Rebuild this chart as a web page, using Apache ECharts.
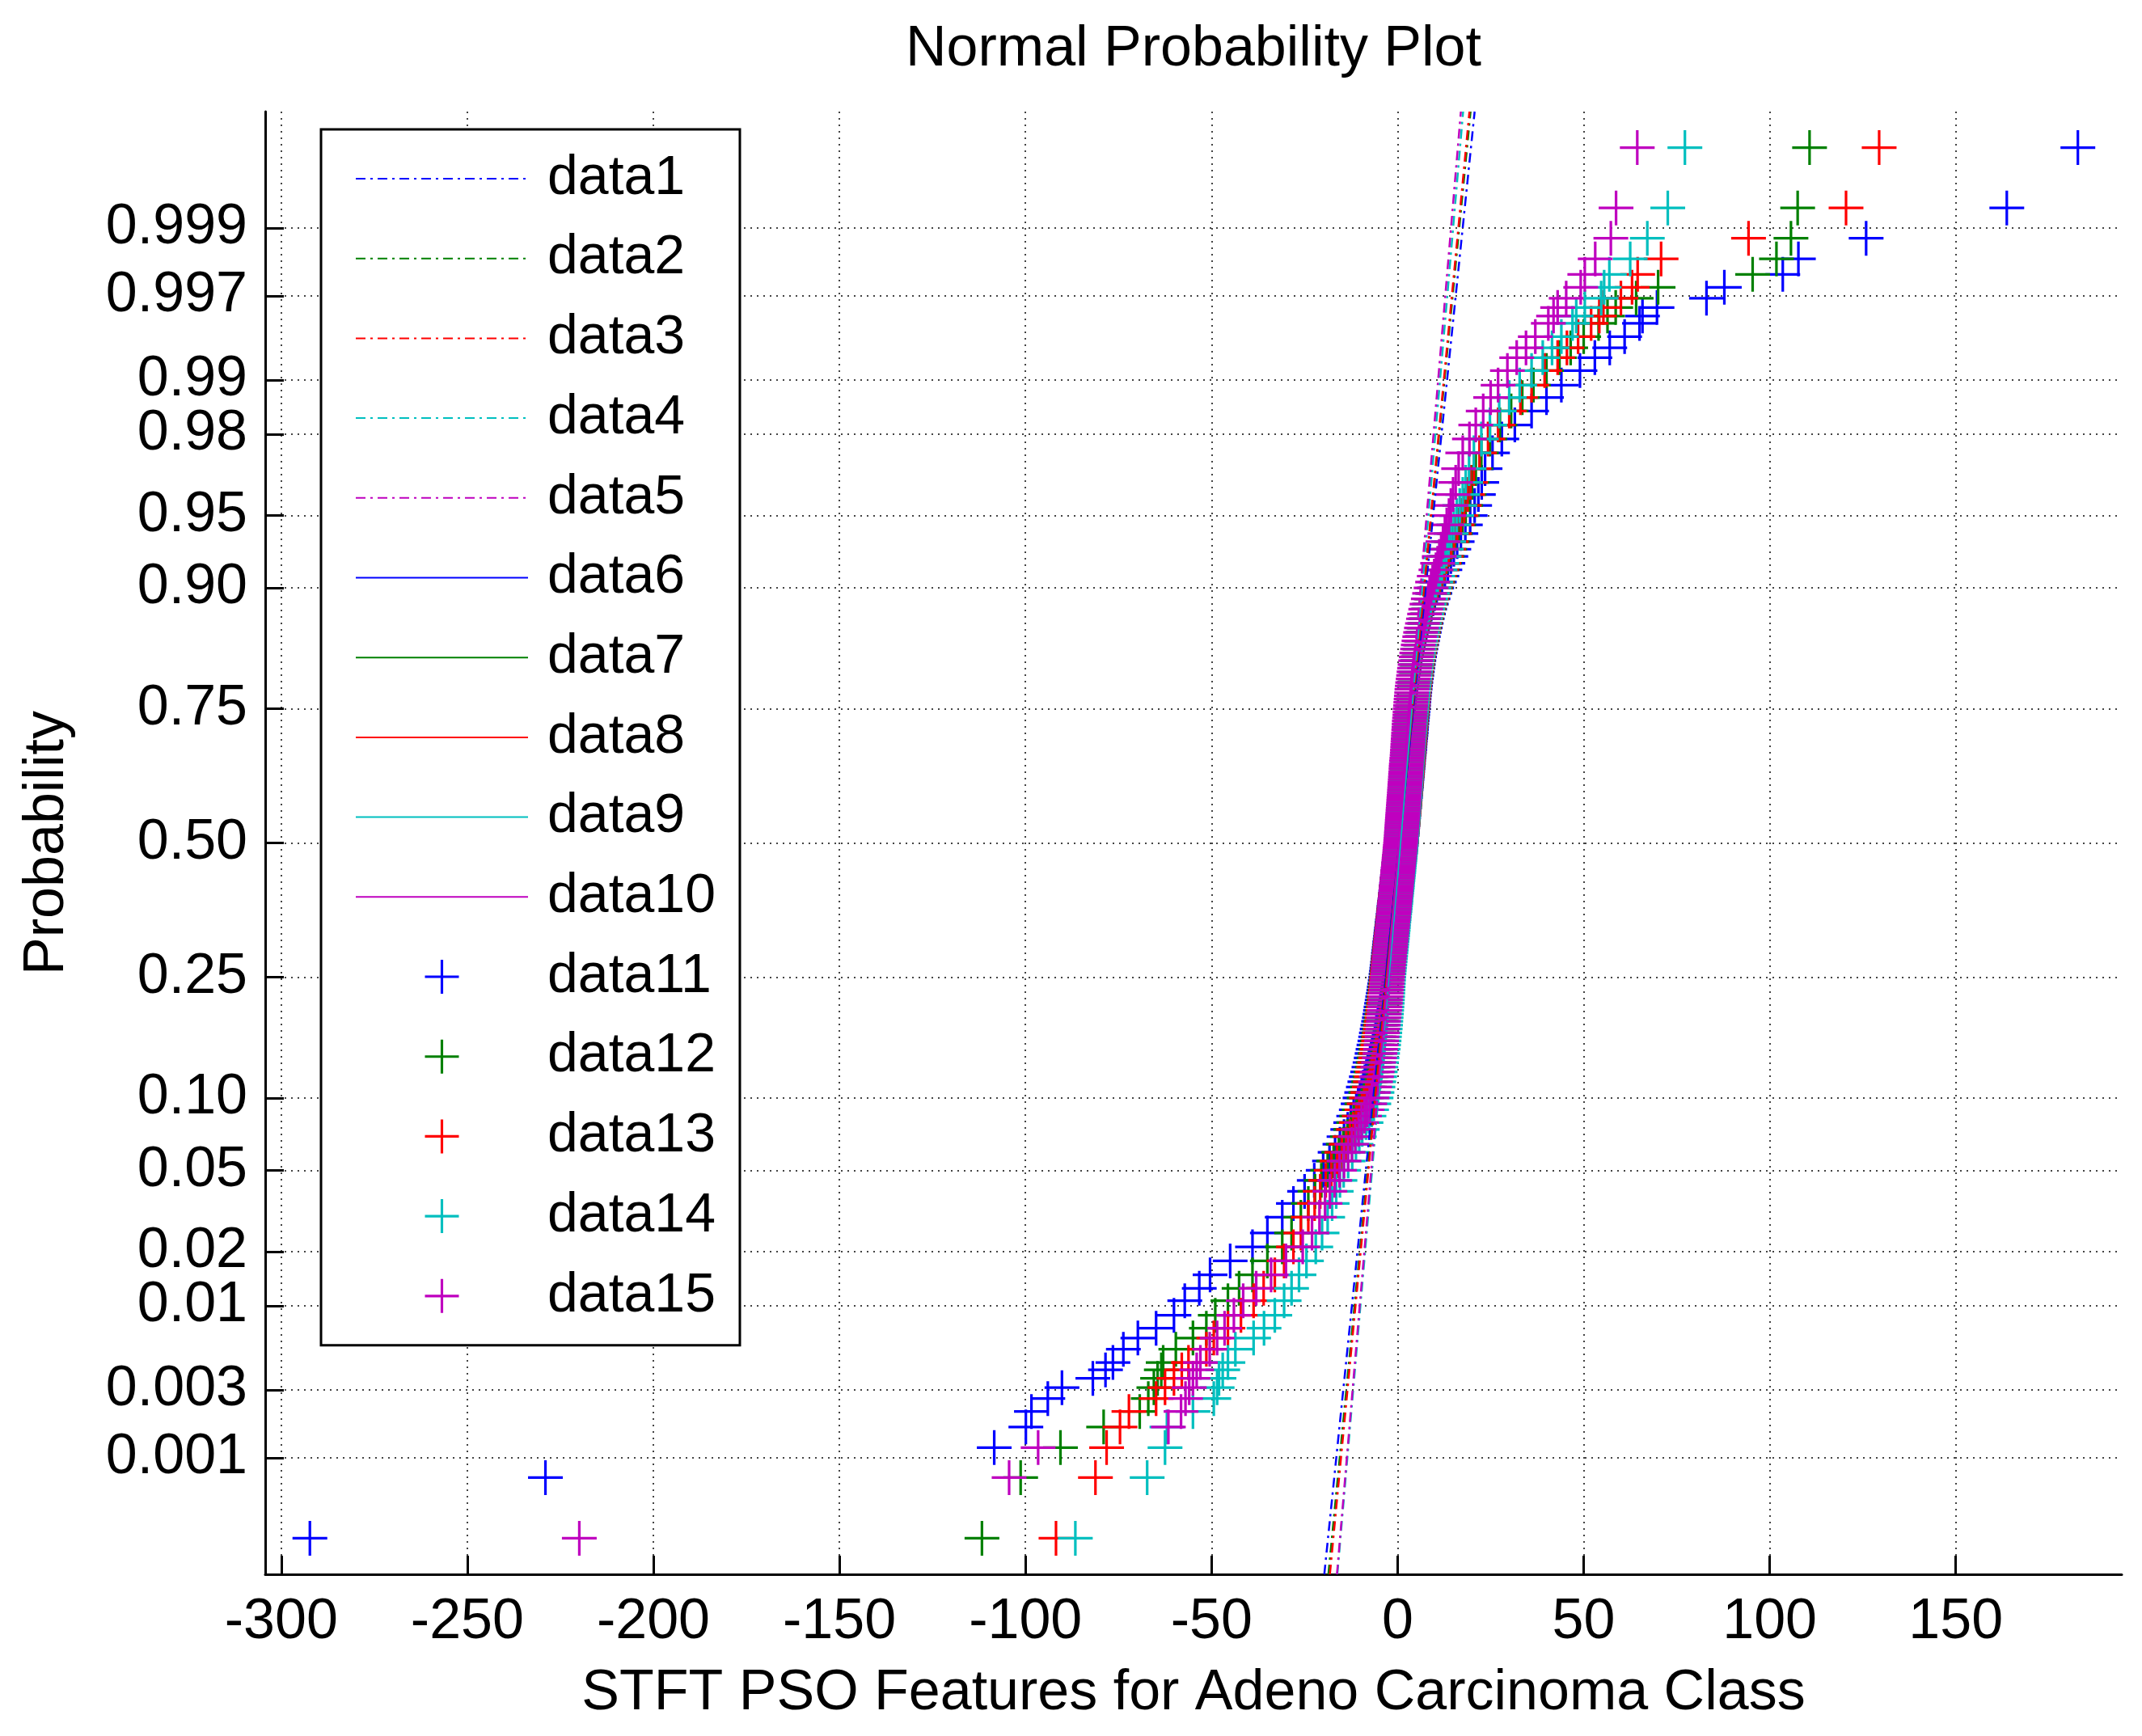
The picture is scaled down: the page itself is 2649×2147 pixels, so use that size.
<!DOCTYPE html>
<html>
<head>
<meta charset="utf-8">
<title>Normal Probability Plot</title>
<script src="https://cdn.jsdelivr.net/npm/echarts@6/dist/echarts.min.js"></script>
<style>
    html, body { margin: 0; padding: 0; background: #fff; }
    #probChart { width: 2649px; height: 2147px; }
</style>
</head>
<body>
<div id="probChart"></div>
<script>
    // plotting positions (probabilities) shared by the five columns
    var probs = [
        0.000238, 0.000714, 0.00119, 0.00167, 0.00214, 0.00262, 0.0031, 0.00357, 0.00405, 0.00452,
        0.00548, 0.00643, 0.00738, 0.00881, 0.01071, 0.01262, 0.015, 0.01786, 0.02119, 0.025,
        0.030, 0.035, 0.040, 0.045, 0.050, 0.055, 0.060, 0.065, 0.070, 0.075, 0.080, 0.085, 0.090, 0.095,
        0.100, 0.105, 0.110, 0.115, 0.120, 0.125, 0.130, 0.135, 0.140, 0.145,
        0.150, 0.155, 0.160, 0.165, 0.170, 0.175, 0.180, 0.185, 0.190, 0.195,
        0.200, 0.205, 0.210, 0.215, 0.220, 0.225, 0.230, 0.235, 0.240, 0.245,
        0.250, 0.255, 0.260, 0.265, 0.270, 0.275, 0.280, 0.285, 0.290, 0.295,
        0.300, 0.305, 0.310, 0.315, 0.320, 0.325, 0.330, 0.335, 0.340, 0.345,
        0.350, 0.355, 0.360, 0.365, 0.370, 0.375, 0.380, 0.385, 0.390, 0.395,
        0.400, 0.405, 0.410, 0.415, 0.420, 0.425, 0.430, 0.435, 0.440, 0.445,
        0.450, 0.455, 0.460, 0.465, 0.470, 0.475, 0.480, 0.485, 0.490, 0.495,
        0.500, 0.505, 0.510, 0.515, 0.520, 0.525, 0.530, 0.535, 0.540, 0.545,
        0.550, 0.555, 0.560, 0.565, 0.570, 0.575, 0.580, 0.585, 0.590, 0.595,
        0.600, 0.605, 0.610, 0.615, 0.620, 0.625, 0.630, 0.635, 0.640, 0.645,
        0.650, 0.655, 0.660, 0.665, 0.670, 0.675, 0.680, 0.685, 0.690, 0.695,
        0.700, 0.705, 0.710, 0.715, 0.720, 0.725, 0.730, 0.735, 0.740, 0.745,
        0.750, 0.755, 0.760, 0.765, 0.770, 0.775, 0.780, 0.785, 0.790, 0.795,
        0.800, 0.805, 0.810, 0.815, 0.820, 0.825, 0.830, 0.835, 0.840, 0.845,
        0.850, 0.855, 0.860, 0.865, 0.870, 0.875, 0.880, 0.885, 0.890, 0.895,
        0.900,
        0.905, 0.910, 0.915, 0.920, 0.925, 0.930, 0.935, 0.940, 0.945, 0.950, 0.955, 0.960, 0.965, 0.970,
        0.975, 0.97881, 0.98214, 0.985, 0.98738, 0.98929, 0.99119, 0.99262, 0.99357, 0.99452,
        0.99548, 0.99595, 0.99643, 0.9969, 0.99738, 0.99786, 0.99833, 0.99881, 0.99929, 0.999762
    ];

    var xBlue = [
        -292.3, -229.0, -108.4, -99.9, -98.4, -94.0, -90.2, -81.9, -78.5, -76.5,
        -73.7, -69.8, -64.9, -60.1, -57.2, -53.3, -50.4, -45, -39, -35,
        -31, -28, -25, -22.4, -20, -18.3, -16.8, -15.5, -14.4, -13.4, -12.6, -11.8, -11.1, -10.6,
        -10.1, -9.65, -9.2, -8.8, -8.4, -8.05, -7.7, -7.4, -7.1, -6.85,
        -6.6, -6.35, -6.1, -5.9, -5.7, -5.5, -5.3, -5.1, -4.9, -4.75,
        -4.6, -4.45, -4.3, -4.15, -4.0, -3.85, -3.7, -3.58, -3.45, -3.32,
        -3.2, -3.1, -3.0, -2.9, -2.8, -2.7, -2.6, -2.52, -2.45, -2.35,
        -2.25, -2.18, -2.1, -2.0, -1.9, -1.82, -1.75, -1.65, -1.55, -1.48,
        -1.4, -1.3, -1.2, -1.12, -1.05, -0.98, -0.9, -0.8, -0.7, -0.62,
        -0.55, -0.48, -0.4, -0.32, -0.25, -0.18, -0.1, -0.02, 0.05, 0.12,
        0.2, 0.28, 0.35, 0.45, 0.55, 0.62, 0.7, 0.78, 0.85, 0.92,
        1.0, 1.05, 1.1, 1.18, 1.25, 1.3, 1.35, 1.42, 1.5, 1.55,
        1.6, 1.65, 1.7, 1.78, 1.85, 1.9, 1.95, 2.02, 2.1, 2.15,
        2.2, 2.28, 2.35, 2.4, 2.45, 2.52, 2.6, 2.65, 2.7, 2.78,
        2.85, 2.9, 2.95, 3.02, 3.1, 3.18, 3.25, 3.3, 3.35, 3.42,
        3.5, 3.58, 3.65, 3.7, 3.75, 3.82, 3.9, 3.98, 4.05, 4.12,
        4.2, 4.28, 4.35, 4.42, 4.5, 4.6, 4.7, 4.8, 4.9, 5.02,
        5.15, 5.28, 5.4, 5.55, 5.7, 5.88, 6.05, 6.25, 6.45, 6.68,
        6.9, 7.15, 7.4, 7.68, 7.95, 8.28, 8.6, 9.05, 9.5, 10.0,
        10.5,
        11.2, 11.9, 12.7, 13.5, 14.3, 15.1, 16.0, 17.0, 18.2, 19.5, 20.7, 21.7, 22.6, 23.5,
        25.5, 28, 31.5, 36, 40, 44, 49, 53, 57, 61,
        65, 65.8, 69.7, 83.0, 87.8, 103.5, 107.7, 125.9, 163.7, 182.8
    ];

    var xGreen = [
        -111.7, -101.3, -90.6, -79, -69.3, -67, -65.5, -64.5, -63.5, -63,
        -59.6, -55, -51.4, -49, -45.6, -42.6, -39, -35, -31, -28.5,
        -26, -24, -22.2, -20.5, -18.8, -17.2, -15.8, -14.6, -13.5, -12.6, -11.8, -11.0, -10.3, -9.6,
        -9.0, -8.55, -8.1, -7.75, -7.4, -7.1, -6.8, -6.55, -6.3, -6.05,
        -5.8, -5.6, -5.4, -5.2, -5.0, -4.85, -4.7, -4.55, -4.4, -4.25,
        -4.1, -3.98, -3.85, -3.72, -3.6, -3.5, -3.4, -3.3, -3.2, -3.1,
        -3.0, -2.9, -2.8, -2.7, -2.6, -2.52, -2.45, -2.35, -2.25, -2.18,
        -2.1, -2.02, -1.95, -1.85, -1.75, -1.68, -1.6, -1.52, -1.45, -1.38,
        -1.3, -1.2, -1.1, -1.02, -0.95, -0.88, -0.8, -0.72, -0.65, -0.58,
        -0.5, -0.42, -0.35, -0.28, -0.2, -0.12, -0.05, 0.02, 0.1, 0.18,
        0.25, 0.32, 0.4, 0.48, 0.55, 0.62, 0.7, 0.78, 0.85, 0.92,
        1.0, 1.05, 1.1, 1.15, 1.2, 1.25, 1.3, 1.38, 1.45, 1.5,
        1.55, 1.6, 1.65, 1.72, 1.8, 1.85, 1.9, 1.95, 2.0, 2.05,
        2.1, 2.18, 2.25, 2.3, 2.35, 2.4, 2.45, 2.52, 2.6, 2.65,
        2.7, 2.75, 2.8, 2.88, 2.95, 3.0, 3.05, 3.12, 3.2, 3.25,
        3.3, 3.38, 3.45, 3.5, 3.55, 3.62, 3.7, 3.78, 3.85, 3.92,
        4.0, 4.08, 4.15, 4.22, 4.3, 4.4, 4.5, 4.6, 4.7, 4.82,
        4.95, 5.08, 5.2, 5.35, 5.5, 5.68, 5.85, 6.05, 6.25, 6.48,
        6.7, 6.95, 7.2, 7.48, 7.75, 8.08, 8.4, 8.82, 9.25, 9.72,
        10.2,
        10.8, 11.4, 12.0, 12.6, 13.3, 14.0, 14.7, 15.5, 16.4, 17.4, 18.3, 19.2, 20.0, 21.0,
        22.5, 24.8, 27.5, 30.5, 33.5, 36.5, 40, 43.5, 46.5, 50,
        54, 56.4, 58.6, 64.1, 70, 95.4, 101.8, 105.7, 107.5, 110.7
    ];

    var xRed = [
        -91.8, -81.2, -78.2, -74.6, -72.2, -64.9, -62.5, -60.1, -58, -56.2,
        -51.4, -49.4, -45.6, -42.1, -38.7, -36, -33, -30.5, -28, -26,
        -24, -22.3, -20.8, -19.3, -17.8, -16.3, -15, -13.8, -12.8, -11.9, -11.1, -10.3, -9.6, -9.0,
        -8.4, -8.0, -7.6, -7.3, -7.0, -6.7, -6.4, -6.15, -5.9, -5.7,
        -5.5, -5.3, -5.1, -4.92, -4.75, -4.6, -4.45, -4.3, -4.15, -4.02,
        -3.9, -3.78, -3.65, -3.55, -3.45, -3.35, -3.25, -3.15, -3.05, -2.98,
        -2.9, -2.8, -2.7, -2.62, -2.55, -2.48, -2.4, -2.3, -2.2, -2.12,
        -2.05, -1.98, -1.9, -1.82, -1.75, -1.65, -1.55, -1.48, -1.4, -1.32,
        -1.25, -1.18, -1.1, -1.02, -0.95, -0.88, -0.8, -0.72, -0.65, -0.58,
        -0.5, -0.42, -0.35, -0.28, -0.2, -0.12, -0.05, 0.02, 0.1, 0.18,
        0.25, 0.32, 0.4, 0.48, 0.55, 0.62, 0.7, 0.78, 0.85, 0.92,
        1.0, 1.05, 1.1, 1.15, 1.2, 1.28, 1.35, 1.4, 1.45, 1.5,
        1.55, 1.62, 1.7, 1.75, 1.8, 1.85, 1.9, 1.95, 2.0, 2.08,
        2.15, 2.2, 2.25, 2.3, 2.35, 2.42, 2.5, 2.55, 2.6, 2.65,
        2.7, 2.78, 2.85, 2.9, 2.95, 3.0, 3.05, 3.12, 3.2, 3.25,
        3.3, 3.35, 3.4, 3.48, 3.55, 3.6, 3.65, 3.72, 3.8, 3.9,
        4.0, 4.08, 4.15, 4.22, 4.3, 4.4, 4.5, 4.6, 4.7, 4.8,
        4.9, 5.02, 5.15, 5.3, 5.45, 5.62, 5.8, 6.0, 6.2, 6.4,
        6.6, 6.85, 7.1, 7.38, 7.65, 7.98, 8.3, 8.7, 9.1, 9.55,
        10.0,
        10.6, 11.2, 11.8, 12.4, 13.0, 13.7, 14.4, 15.2, 16.0, 17.0, 17.9, 18.8, 19.6, 20.5,
        22, 24.3, 27, 30, 33, 36, 39.5, 43, 45.5, 48.5,
        52, 54.2, 55.3, 60, 63, 64.5, 70.8, 94.3, 120.5, 129.4
    ];

    var xCyan = [
        -86.6, -67.3, -62.5, -62.0, -55, -49.4, -48.5, -48, -47, -45.6,
        -43.6, -38.7, -35.9, -33, -30.5, -28.5, -26.5, -24.5, -22, -20.3,
        -18.8, -17.6, -16.5, -15.5, -14.5, -13.3, -12.2, -11.2, -10.3, -9.5, -8.5, -7.7, -7.0, -6.4,
        -5.8, -5.55, -5.3, -5.08, -4.85, -4.68, -4.5, -4.35, -4.2, -4.05,
        -3.9, -3.78, -3.65, -3.55, -3.45, -3.35, -3.25, -3.18, -3.1, -3.02,
        -2.95, -2.88, -2.8, -2.75, -2.7, -2.65, -2.6, -2.55, -2.5, -2.45,
        -2.4, -2.32, -2.25, -2.18, -2.1, -2.02, -1.95, -1.88, -1.8, -1.72,
        -1.65, -1.58, -1.5, -1.42, -1.35, -1.28, -1.2, -1.15, -1.1, -1.02,
        -0.95, -0.88, -0.8, -0.72, -0.65, -0.58, -0.5, -0.45, -0.4, -0.32,
        -0.25, -0.18, -0.1, -0.05, 0, 0.08, 0.15, 0.22, 0.3, 0.35,
        0.4, 0.48, 0.55, 0.6, 0.65, 0.72, 0.8, 0.85, 0.9, 0.95,
        1.0, 1.05, 1.1, 1.15, 1.2, 1.25, 1.3, 1.35, 1.4, 1.45,
        1.5, 1.55, 1.6, 1.65, 1.7, 1.75, 1.8, 1.88, 1.95, 2.0,
        2.05, 2.1, 2.15, 2.2, 2.25, 2.3, 2.35, 2.4, 2.45, 2.5,
        2.55, 2.6, 2.65, 2.72, 2.8, 2.85, 2.9, 2.95, 3.0, 3.05,
        3.1, 3.18, 3.25, 3.3, 3.35, 3.42, 3.5, 3.58, 3.65, 3.72,
        3.8, 3.88, 3.95, 4.02, 4.1, 4.2, 4.3, 4.4, 4.5, 4.6,
        4.7, 4.82, 4.95, 5.1, 5.25, 5.42, 5.6, 5.8, 6.0, 6.2,
        6.4, 6.65, 6.9, 7.18, 7.45, 7.78, 8.1, 8.5, 8.9, 9.35,
        9.8,
        10.3, 10.8, 11.4, 11.9, 12.5, 13.1, 13.7, 14.4, 15.1, 15.9, 16.7, 17.5, 18.3, 19.2,
        20.5, 22.5, 24.8, 27.3, 30, 32.8, 36, 39, 41.5, 44,
        47, 48, 50.3, 54.7, 55.5, 56.9, 62.5, 67.1, 72.6, 77.2
    ];

    var xMagenta = [
        -219.9, -104.4, -96.6, -61.6, -58.2, -57, -56, -55, -54, -53,
        -50.5, -48.5, -46.5, -44, -41.5, -38, -34, -30, -25.5, -23,
        -21, -19.5, -18.2, -16.9, -15.6, -14.4, -13.3, -12.3, -11.4, -10.5, -9.7, -8.9, -8.2, -7.5,
        -6.9, -6.55, -6.2, -5.95, -5.7, -5.5, -5.3, -5.1, -4.9, -4.75,
        -4.6, -4.45, -4.3, -4.2, -4.1, -4.0, -3.9, -3.8, -3.7, -3.6,
        -3.5, -3.4, -3.3, -3.22, -3.15, -3.08, -3.0, -2.92, -2.85, -2.78,
        -2.7, -2.62, -2.55, -2.48, -2.4, -2.32, -2.25, -2.18, -2.1, -2.02,
        -1.95, -1.88, -1.8, -1.72, -1.65, -1.58, -1.5, -1.42, -1.35, -1.28,
        -1.2, -1.12, -1.05, -0.98, -0.9, -0.85, -0.8, -0.72, -0.65, -0.58,
        -0.5, -0.45, -0.4, -0.32, -0.25, -0.18, -0.1, -0.05, 0, 0.08,
        0.15, 0.22, 0.3, 0.35, 0.4, 0.48, 0.55, 0.6, 0.65, 0.72,
        0.8, 0.85, 0.9, 0.95, 1.0, 1.05, 1.1, 1.15, 1.2, 1.25,
        1.3, 1.35, 1.4, 1.45, 1.5, 1.55, 1.6, 1.65, 1.7, 1.75,
        1.8, 1.85, 1.9, 1.95, 2.0, 2.05, 2.1, 2.15, 2.2, 2.25,
        2.3, 2.35, 2.4, 2.48, 2.55, 2.6, 2.65, 2.7, 2.75, 2.8,
        2.85, 2.9, 2.95, 3.0, 3.05, 3.1, 3.15, 3.22, 3.3, 3.35,
        3.4, 3.48, 3.55, 3.62, 3.7, 3.78, 3.85, 3.95, 4.05, 4.18,
        4.3, 4.42, 4.55, 4.7, 4.85, 5.0, 5.15, 5.35, 5.55, 5.75,
        5.95, 6.18, 6.4, 6.68, 6.95, 7.25, 7.55, 7.9, 8.25, 8.6,
        9.0,
        9.4, 9.85, 10.3, 10.75, 11.2, 11.7, 12.2, 12.7, 13.2, 13.8, 14.3, 14.9, 15.6, 16.4,
        17.5, 19.3, 21, 23, 25, 27, 29.5, 32, 34.5, 37,
        40.5, 41.9, 43, 45.3, 49.2, 50.3, 53.1, 57.3, 58.7, 64.4
    ];

    // reference lines: x where each fitted line meets the bottom and top of the plot
    var fitLow = [-19.7, -18.6, -18.2, -16.2, -16.3];
    var fitHigh = [20.7, 19.6, 19.3, 17.6, 17.0];
    // first and third quartiles (solid segments)
    var quart1 = [-3.2, -3.0, -2.9, -2.4, -2.7];
    var quart3 = [4.2, 4.0, 4.0, 3.8, 3.4];

    var xTicks = [-300, -250, -200, -150, -100, -50, 0, 50, 100, 150];
    var yTickProbs = [0.001, 0.003, 0.01, 0.02, 0.05, 0.10, 0.25, 0.50, 0.75, 0.90, 0.95, 0.98, 0.99, 0.997, 0.999];
    var yTickLabels = ['0.001', '0.003', '0.01', '0.02', '0.05', '0.10', '0.25', '0.50', '0.75', '0.90', '0.95', '0.98', '0.99', '0.997', '0.999'];
    var probRange = [0.000119, 0.999881];
    var xRange = [-304.3, 194.6];

    var colors = ['#0000ff', '#008000', '#ff0000', '#00bfbf', '#bf00bf'];
    var columns = [xBlue, xGreen, xRed, xCyan, xMagenta];
    var plusPath = 'path://M0,18.5H40V21.5H0Z M18.5,0H21.5V40H18.5Z';
    var fontName = '"Liberation Sans", Arial, Helvetica, sans-serif';

    // inverse normal cdf (Acklam), maps probability onto the probit axis
    function norminv(p) {
        var a = [-3.969683028665376e+01, 2.209460984245205e+02, -2.759285104469687e+02, 1.383577518672690e+02, -3.066479806614716e+01, 2.506628277459239e+00];
        var b = [-5.447609879822406e+01, 1.615858368580409e+02, -1.556989798598866e+02, 6.680131188771972e+01, -1.328068155288572e+01];
        var c = [-7.784894002430293e-03, -3.223964580411365e-01, -2.400758277161838e+00, -2.549732539343734e+00, 4.374664141464968e+00, 2.938163982698783e+00];
        var d = [7.784695709041462e-03, 3.224671290700398e-01, 2.445134137142996e+00, 3.754408661907416e+00];
        var q, r;
        if (p < 0.02425) {
            q = Math.sqrt(-2 * Math.log(p));
            return (((((c[0] * q + c[1]) * q + c[2]) * q + c[3]) * q + c[4]) * q + c[5]) /
                ((((d[0] * q + d[1]) * q + d[2]) * q + d[3]) * q + 1);
        }
        if (p > 1 - 0.02425) {
            q = Math.sqrt(-2 * Math.log(1 - p));
            return -(((((c[0] * q + c[1]) * q + c[2]) * q + c[3]) * q + c[4]) * q + c[5]) /
                ((((d[0] * q + d[1]) * q + d[2]) * q + d[3]) * q + 1);
        }
        q = p - 0.5;
        r = q * q;
        return (((((a[0] * r + a[1]) * r + a[2]) * r + a[3]) * r + a[4]) * r + a[5]) * q /
            (((((b[0] * r + b[1]) * r + b[2]) * r + b[3]) * r + b[4]) * r + 1);
    }

    var yTickZ = yTickProbs.map(norminv);
    var zLow = norminv(probRange[0]);
    var zHigh = norminv(probRange[1]);

    var series = [];
    var i;
    for (i = 0; i < 5; i++) {
        series.push({
            name: 'data' + (i + 1),
            type: 'line',
            symbol: 'none',
            data: [[fitLow[i], zLow], [fitHigh[i], zHigh]],
            itemStyle: { color: colors[i] },
            lineStyle: { color: colors[i], width: 2.5, type: [12, 6, 3, 6] }
        });
    }
    for (i = 0; i < 5; i++) {
        series.push({
            name: 'data' + (i + 6),
            type: 'line',
            symbol: 'none',
            data: [[quart1[i], norminv(0.25)], [quart3[i], norminv(0.75)]],
            itemStyle: { color: colors[i] },
            lineStyle: { color: colors[i], width: 2.5, type: 'solid' }
        });
    }
    for (i = 0; i < 5; i++) {
        var col = columns[i];
        var pts = [];
        for (var j = 0; j < Math.min(col.length, probs.length); j++) {
            pts.push([col[j], norminv(probs[j])]);
        }
        series.push({
            name: 'data' + (i + 11),
            type: 'scatter',
            symbol: plusPath,
            symbolSize: 43,
            data: pts,
            itemStyle: { color: colors[i], opacity: 1 }
        });
    }

    // line entries get no marker in the legend box
    var legendData = [];
    for (i = 1; i <= 15; i++) {
        if (i <= 10) {
            legendData.push({ name: 'data' + i, itemStyle: { opacity: 0 } });
        } else {
            legendData.push({ name: 'data' + i });
        }
    }

    var option = {
        backgroundColor: '#ffffff',
        animation: false,
        textStyle: { fontFamily: fontName },
        title: {
            text: 'Normal Probability Plot',
            left: 1476,
            top: 27,
            padding: 0,
            textAlign: 'center',
            textStyle: { fontFamily: fontName, fontSize: 70, fontWeight: 'normal', color: '#000' }
        },
        grid: {
            left: 328,
            right: 25,
            top: 138,
            bottom: 200
        },
        legend: {
            data: legendData,
            orient: 'vertical',
            left: 397,
            top: 160,
            padding: [21, 30, 21, 42],
            itemWidth: 213,
            itemHeight: 42,
            itemGap: 18.7,
            backgroundColor: '#fff',
            borderColor: '#000',
            borderWidth: 3,
            selectedMode: false,
            textStyle: {
                color: '#000',
                fontFamily: fontName,
                fontSize: 68,
                lineHeight: 80,
                padding: [0, 0, 0, 19]
            }
        },
        xAxis: {
            type: 'value',
            min: xRange[0],
            max: xRange[1],
            name: 'STFT PSO Features for Adeno Carcinoma Class',
            nameLocation: 'middle',
            nameGap: 113,
            nameTextStyle: { fontFamily: fontName, fontSize: 70, color: '#000' },
            axisLine: { show: true, onZero: false, lineStyle: { color: '#000', width: 3 } },
            axisTick: { show: true, inside: true, length: 23, customValues: xTicks, lineStyle: { color: '#000', width: 3 } },
            axisLabel: { customValues: xTicks, margin: 25, fontSize: 70, color: '#000', fontFamily: fontName },
            splitLine: { show: true, lineStyle: { color: '#444', width: 2, type: [2, 6] } }
        },
        yAxis: {
            type: 'value',
            min: zLow,
            max: zHigh,
            name: 'Probability',
            nameLocation: 'middle',
            nameGap: 234,
            nameRotate: 90,
            nameTextStyle: { fontFamily: fontName, fontSize: 70, color: '#000' },
            axisLine: { show: true, onZero: false, lineStyle: { color: '#000', width: 3 } },
            axisTick: { show: true, inside: true, length: 23, customValues: yTickZ, lineStyle: { color: '#000', width: 3 } },
            axisLabel: {
                customValues: yTickZ,
                margin: 22,
                fontSize: 70,
                color: '#000',
                fontFamily: fontName,
                formatter: function (v) {
                    for (var k = 0; k < yTickZ.length; k++) {
                        if (Math.abs(yTickZ[k] - v) < 1e-6) return yTickLabels[k];
                    }
                    return '';
                }
            },
            splitLine: { show: true, lineStyle: { color: '#444', width: 2, type: [2, 6] } }
        },
        series: series
    };

    var myChart = echarts.init(document.getElementById('probChart'));
    myChart.setOption(option);
</script>
</body>
</html>
